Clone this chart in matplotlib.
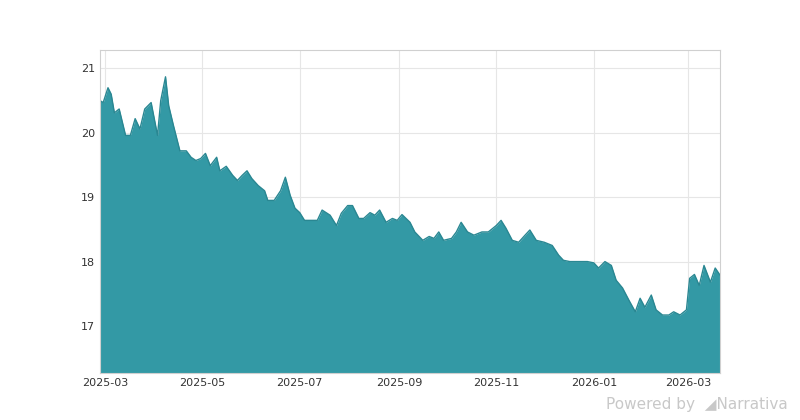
import matplotlib
matplotlib.use("Agg")
import matplotlib.pyplot as plt
import matplotlib.dates as mdates
import pandas as pd

dates = ["2025-02-26","2025-02-28","2025-03-03","2025-03-05","2025-03-07","2025-03-10","2025-03-14","2025-03-17","2025-03-20","2025-03-23","2025-03-26","2025-03-30","2025-04-03","2025-04-05","2025-04-08","2025-04-10","2025-04-13","2025-04-17","2025-04-21","2025-04-24","2025-04-27","2025-04-30","2025-05-03","2025-05-06","2025-05-10","2025-05-12","2025-05-16","2025-05-20","2025-05-23","2025-05-26","2025-05-29","2025-06-01","2025-06-05","2025-06-09","2025-06-11","2025-06-15","2025-06-19","2025-06-22","2025-06-25","2025-06-28","2025-07-01","2025-07-04","2025-07-07","2025-07-12","2025-07-15","2025-07-20","2025-07-24","2025-07-27","2025-07-31","2025-08-03","2025-08-07","2025-08-10","2025-08-14","2025-08-17","2025-08-20","2025-08-24","2025-08-28","2025-08-31","2025-09-03","2025-09-08","2025-09-11","2025-09-16","2025-09-20","2025-09-23","2025-09-26","2025-09-29","2025-10-04","2025-10-07","2025-10-10","2025-10-14","2025-10-18","2025-10-23","2025-10-27","2025-11-01","2025-11-04","2025-11-07","2025-11-11","2025-11-15","2025-11-19","2025-11-22","2025-11-26","2025-12-01","2025-12-06","2025-12-10","2025-12-13","2025-12-17","2025-12-21","2025-12-25","2025-12-28","2026-01-01","2026-01-04","2026-01-08","2026-01-12","2026-01-15","2026-01-19","2026-01-23","2026-01-27","2026-01-30","2026-02-02","2026-02-06","2026-02-09","2026-02-13","2026-02-17","2026-02-20","2026-02-24","2026-02-28","2026-03-02","2026-03-05","2026-03-08","2026-03-11","2026-03-15","2026-03-18","2026-03-21"]
values = [20.50,20.47,20.70,20.60,20.31,20.37,19.96,19.96,20.22,20.06,20.37,20.47,19.96,20.50,20.87,20.42,20.11,19.72,19.72,19.62,19.57,19.60,19.68,19.49,19.62,19.41,19.48,19.34,19.26,19.34,19.41,19.29,19.18,19.10,18.95,18.95,19.10,19.31,19.03,18.83,18.76,18.64,18.64,18.64,18.80,18.72,18.56,18.75,18.87,18.87,18.67,18.67,18.76,18.72,18.80,18.61,18.67,18.64,18.73,18.61,18.46,18.33,18.39,18.36,18.46,18.33,18.36,18.46,18.61,18.46,18.41,18.46,18.46,18.56,18.64,18.52,18.33,18.30,18.41,18.49,18.33,18.30,18.25,18.10,18.02,18.00,18.00,18.00,18.00,17.98,17.90,18.00,17.94,17.71,17.59,17.40,17.22,17.43,17.29,17.48,17.25,17.17,17.17,17.22,17.17,17.25,17.74,17.80,17.63,17.94,17.68,17.90,17.79]

x = pd.to_datetime(dates)
fig = plt.figure(figsize=(8, 4.2), dpi=100)
ax = fig.add_axes([0.125, 0.112, 0.775, 0.768])
ax.fill_between(x, values, 16.27, color="#3399a5", linewidth=0)
ax.plot(x, values, color="#2a8792", linewidth=1)
ax.set_ylim(16.27, 21.28)
ax.set_xlim(x[0], x[-1])
ax.xaxis.set_major_locator(mdates.MonthLocator(bymonth=[1,3,5,7,9,11]))
ax.xaxis.set_major_formatter(mdates.DateFormatter("%Y-%m"))
ax.set_yticks([17, 18, 19, 20, 21])
ax.grid(True, color="#e6e6e6", linewidth=0.8)
ax.set_axisbelow(True)
for s in ax.spines.values():
    s.set_color("#d0d0d0")
ax.tick_params(labelsize=8, colors="#333333", length=0)
fig.text(0.985, 0.02, "Powered by  \u25e2Narrativa", ha="right", va="bottom", fontsize=11, color="#c8c8c8")
fig.savefig("out.png")
